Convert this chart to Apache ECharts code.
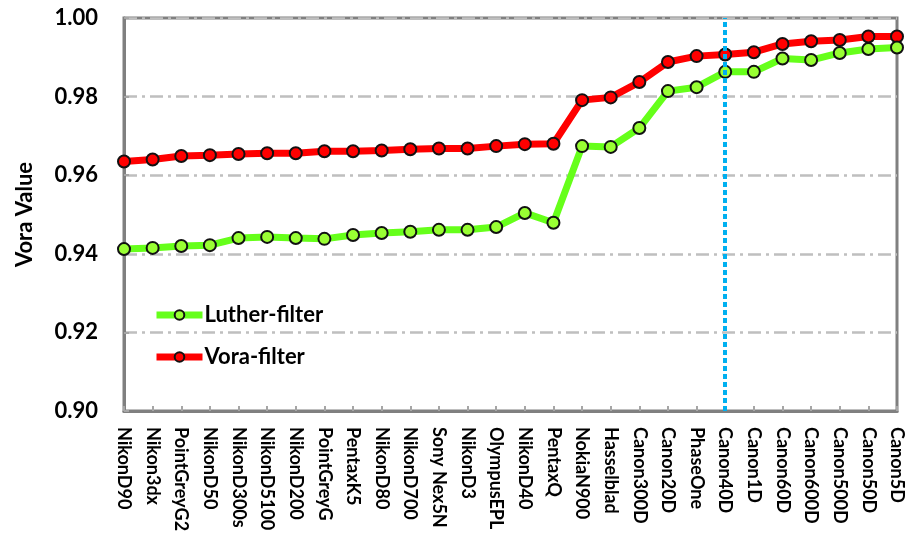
<!DOCTYPE html>
<html>
<head>
<meta charset="utf-8">
<script src="https://cdn.jsdelivr.net/npm/echarts@6/dist/echarts.min.js"></script>
<style>
  html, body { margin: 0; padding: 0; background: #fff; }
  #chart { width: 909px; height: 555px; }
</style>
</head>
<body>
<div id="chart"></div>
<script>
// camera names along the x axis
var cameras = ['NikonD90', 'Nikon3dx', 'PointGreyG2', 'NikonD50', 'NikonD300s', 'NikonD5100',
  'NikonD200', 'PointGreyG', 'PentaxK5', 'NikonD80', 'NikonD700', 'Sony Nex5N', 'NikonD3',
  'OlympusEPL', 'NikonD40', 'PentaxQ', 'NokiaN900', 'Hasselblad', 'Canon300D', 'Canon20D',
  'PhaseOne', 'Canon40D', 'Canon1D', 'Canon60D', 'Canon600D', 'Canon500D', 'Canon50D', 'Canon5D'];

var lutherFilter = [0.9412, 0.9415, 0.9420, 0.9422, 0.9440, 0.9443, 0.9440, 0.9438, 0.9448, 0.9453,
  0.9456, 0.9461, 0.9461, 0.9468, 0.9504, 0.9479, 0.9674, 0.9672, 0.9720, 0.9814,
  0.9824, 0.9863, 0.9863, 0.9897, 0.9893, 0.9911, 0.9921, 0.9925];

var voraFilter = [0.9635, 0.9640, 0.9649, 0.9651, 0.9654, 0.9656, 0.9656, 0.9661, 0.9661, 0.9663,
  0.9666, 0.9668, 0.9668, 0.9674, 0.9679, 0.9680, 0.9791, 0.9798, 0.9837, 0.9888,
  0.9903, 0.9907, 0.9913, 0.9934, 0.9941, 0.9944, 0.9953, 0.9953];

var markedCamera = 'Canon40D';

var font = 'Lato, "Open Sans", sans-serif';

var chart = echarts.init(document.getElementById('chart'));
var option = {
  animation: false,
  backgroundColor: '#fff',
  grid: {
    left: 124, right: 12, top: 18, bottom: 144,
    show: true, borderColor: '#808080', borderWidth: 3
  },
  legend: {
    orient: 'vertical',
    left: 148, top: 299,
    itemWidth: 46, itemHeight: 12, itemGap: 20,
    lineStyle: { width: 7 },
    textStyle: { fontFamily: font, fontWeight: 'bold', fontSize: 22, color: '#000', padding: [0, 0, 0, -3] },
    data: ['Luther-filter', 'Vora-filter']
  },
  xAxis: {
    type: 'category',
    boundaryGap: false,
    data: cameras,
    axisLine: { lineStyle: { color: '#808080', width: 3 } },
    axisTick: { inside: true, length: 5, lineStyle: { color: '#A6A6A6', width: 2 } },
    axisLabel: {
      rotate: -90, margin: 16, interval: 0,
      fontFamily: font, fontSize: 18, fontWeight: 'bold', color: '#000'
    },
    splitLine: { show: false }
  },
  yAxis: {
    type: 'value',
    min: 0.90, max: 1.00, interval: 0.02,
    name: 'Vora Value',
    nameLocation: 'middle',
    nameGap: 88,
    nameTextStyle: { fontFamily: font, fontWeight: 'bold', fontSize: 22, color: '#000' },
    axisLine: { show: true, lineStyle: { color: '#808080', width: 3 } },
    axisTick: { show: true, inside: true, length: 5, lineStyle: { color: '#A6A6A6', width: 2 } },
    axisLabel: {
      margin: 26,
      fontFamily: font, fontSize: 22, fontWeight: 'bold', color: '#000',
      formatter: function (v) { return v.toFixed(2); }
    },
    splitLine: {
      lineStyle: { color: '#BFBFBF', width: 2.5, type: [13, 5, 3, 5] }
    }
  },
  series: [
    {
      name: 'Luther-filter',
      type: 'line',
      data: lutherFilter,
      symbol: 'circle',
      symbolSize: 12,
      lineStyle: { color: '#66FF1A', width: 7 },
      itemStyle: { color: '#99FF33', borderColor: '#111', borderWidth: 2 },
      z: 3
    },
    {
      name: 'Vora-filter',
      type: 'line',
      data: voraFilter,
      symbol: 'circle',
      symbolSize: 12,
      lineStyle: { color: '#FF0000', width: 7 },
      itemStyle: { color: '#FF0000', borderColor: '#111', borderWidth: 2 },
      z: 2,
      markLine: {
        silent: true,
        symbol: 'none',
        label: { show: false },
        lineStyle: { color: '#00B0F0', width: 4, type: [5, 3] },
        data: [{ xAxis: markedCamera }]
      }
    }
  ]
};
chart.setOption(option);
</script>
</body>
</html>
